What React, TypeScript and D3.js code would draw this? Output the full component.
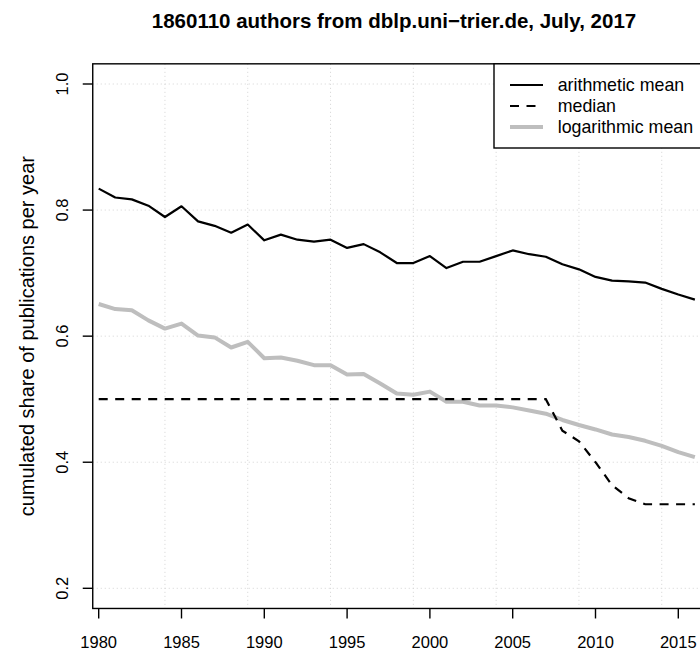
import React from "react";
import * as d3 from "d3";

// Publication-share statistics per year for dblp authors
const years: number[] = d3.range(1980, 2017);

const arithmeticMean: number[] = [
  0.834, 0.820, 0.817, 0.807, 0.789, 0.806, 0.782, 0.775, 0.764, 0.777,
  0.752, 0.761, 0.753, 0.750, 0.753, 0.740, 0.746, 0.733, 0.716, 0.716,
  0.727, 0.708, 0.718, 0.718, 0.727, 0.736, 0.730, 0.726, 0.714, 0.706,
  0.694, 0.688, 0.687, 0.685, 0.675, 0.666, 0.658,
];

const median: number[] = [
  0.5, 0.5, 0.5, 0.5, 0.5, 0.5, 0.5, 0.5, 0.5, 0.5,
  0.5, 0.5, 0.5, 0.5, 0.5, 0.5, 0.5, 0.5, 0.5, 0.5,
  0.5, 0.5, 0.5, 0.5, 0.5, 0.5, 0.5, 0.5, 0.45, 0.4333,
  0.4, 0.3636, 0.3429, 0.3333, 0.3333, 0.3333, 0.3333,
];

const logarithmicMean: number[] = [
  0.651, 0.643, 0.641, 0.625, 0.612, 0.620, 0.601, 0.598, 0.582, 0.591,
  0.565, 0.566, 0.561, 0.554, 0.554, 0.539, 0.540, 0.525, 0.509, 0.507,
  0.512, 0.496, 0.496, 0.490, 0.490, 0.487, 0.482, 0.477, 0.467, 0.459,
  0.452, 0.444, 0.440, 0.434, 0.426, 0.416, 0.408,
];

const xTicks: number[] = [1980, 1985, 1990, 1995, 2000, 2005, 2010, 2015];
const xGrid: number[] = [1984, 1989, 1994, 1999, 2004, 2009, 2014];
const yTicks: number[] = [0.2, 0.4, 0.6, 0.8, 1.0];

const title = "1860110 authors from dblp.uni\u2212trier.de, July, 2017";
const yLabel = "cumulated share of publications per year";

const DASH = "9,7.5";
const legendItems = [
  { label: "arithmetic mean", color: "#000000", width: 2.2, dash: "" },
  { label: "median", color: "#000000", width: 2.2, dash: DASH },
  { label: "logarithmic mean", color: "#bebebe", width: 4, dash: "" },
];

const W = 700;
const H = 652;
const FONT = "'Liberation Sans', Arial, Helvetica, sans-serif";

export default function App() {
  const x = d3.scaleLinear().domain([1980, 2015]).range([98.7, 678.3]);
  const y = d3.scaleLinear().domain([0.2, 1.0]).range([588.3, 84]);

  // plotting region (y padded by 4% of the range as in base graphics)
  const left = x(1979.64);
  const right = x(2017.6);
  const top = y(1.032);
  const bottom = y(0.168);

  const line = d3
    .line<number>()
    .x((_, i) => x(years[i]))
    .y((d) => y(d));

  const legendLeft = 494;
  const legendBottom = 148;
  const rowY = (i: number) => 85 + i * 21;

  return (
    <svg
      width={W}
      height={H}
      style={{ position: "absolute", left: 0, top: 0, background: "#fff" }}
      fontFamily={FONT}
    >
      <rect x={0} y={0} width={W} height={H} fill="#fff" />
      <text
        x={394}
        y={28.3}
        textAnchor="middle"
        fontSize={20.5}
        fontWeight="bold"
        fill="#000"
      >
        {title}
      </text>

      {/* grid */}
      <g stroke="#d3d3d3" strokeWidth={1} strokeDasharray="1,3">
        {xGrid.map((g) => (
          <line key={"gx" + g} x1={x(g)} x2={x(g)} y1={top} y2={bottom} />
        ))}
        {yTicks.map((t) => (
          <line key={"gy" + t} x1={left} x2={right} y1={y(t)} y2={y(t)} />
        ))}
      </g>

      {/* series */}
      <path d={line(logarithmicMean) || ""} fill="none" stroke="#bebebe" strokeWidth={4} strokeLinejoin="round" />
      <path d={line(median) || ""} fill="none" stroke="#000" strokeWidth={2.2} strokeDasharray={DASH} />
      <path d={line(arithmeticMean) || ""} fill="none" stroke="#000" strokeWidth={2.2} strokeLinejoin="round" />

      {/* plot box */}
      <rect x={left} y={top} width={right - left} height={bottom - top} fill="none" stroke="#000" strokeWidth={1.4} />

      {/* x axis */}
      <g stroke="#000" strokeWidth={1.4}>
        {xTicks.map((t) => (
          <line key={"xt" + t} x1={x(t)} x2={x(t)} y1={bottom} y2={bottom + 10} />
        ))}
      </g>
      {xTicks.map((t) => (
        <text key={"xl" + t} x={x(t)} y={648.3} textAnchor="middle" fontSize={16.5} fill="#000">
          {t}
        </text>
      ))}

      {/* y axis */}
      <g stroke="#000" strokeWidth={1.4}>
        {yTicks.map((t) => (
          <line key={"yt" + t} x1={left - 10} x2={left} y1={y(t)} y2={y(t)} />
        ))}
      </g>
      {yTicks.map((t) => (
        <text
          key={"yl" + t}
          transform={`translate(68.3, ${y(t)}) rotate(-90)`}
          textAnchor="middle"
          fontSize={16.5}
          fill="#000"
        >
          {t.toFixed(1)}
        </text>
      ))}
      <text
        transform={`translate(34, ${(top + bottom) / 2}) rotate(-90)`}
        textAnchor="middle"
        fontSize={20}
        fill="#000"
      >
        {yLabel}
      </text>

      {/* legend */}
      <rect
        x={legendLeft}
        y={top}
        width={right - legendLeft}
        height={legendBottom - top}
        fill="#fff"
        stroke="#000"
        strokeWidth={1.4}
      />
      {legendItems.map((it, i) => (
        <g key={it.label}>
          <line
            x1={510}
            x2={543}
            y1={rowY(i)}
            y2={rowY(i)}
            stroke={it.color}
            strokeWidth={it.width}
            strokeDasharray={it.dash}
          />
          <text x={557.7} y={rowY(i) + 6.3} fontSize={17.8} fill="#000">
            {it.label}
          </text>
        </g>
      ))}
    </svg>
  );
}
